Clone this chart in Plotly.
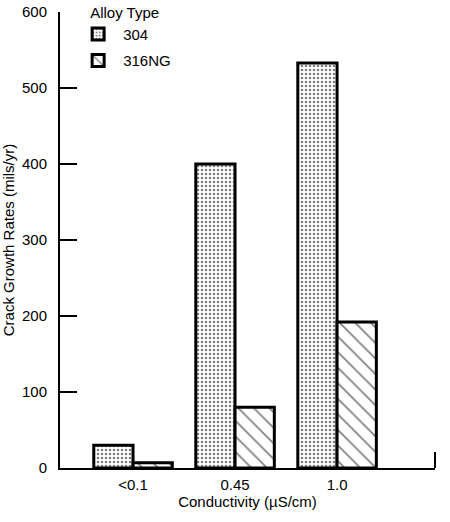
import plotly.graph_objects as go

categories = ["<0.1", "0.45", "1.0"]
alloy_304 = [30, 400, 533]
alloy_316ng = [7, 80, 192]
y_ticks = [0, 100, 200, 300, 400, 500, 600]

FONT = "Liberation Sans, Arial, Helvetica, sans-serif"

fig = go.Figure()
fig.add_trace(go.Bar(
    x=categories, y=alloy_304, name="304", legendgroup="a",
    marker=dict(color="white", line=dict(color="black", width=3),
                pattern=dict(shape=".", fgcolor="black", bgcolor="white",
                             size=4, solidity=0.35, fillmode="overlay")),
))
fig.add_trace(go.Bar(
    x=categories, y=alloy_316ng, name="316NG", legendgroup="b",
    marker=dict(color="white", line=dict(color="black", width=3),
                pattern=dict(shape="\\", fgcolor="black", bgcolor="white",
                             size=11, solidity=0.15, fillmode="overlay")),
))

fig.update_layout(
    width=450, height=522,
    margin=dict(l=60, r=15, t=12, b=54, autoexpand=False),
    paper_bgcolor="white", plot_bgcolor="white",
    barmode="group", bargap=0.23, bargroupgap=0,
    font=dict(family=FONT, size=15, color="black"),
    showlegend=True,
    legend=dict(
        title=dict(text="Alloy Type", font=dict(size=15), side="top center"),
        x=0.035, y=1.03, xanchor="left", yanchor="top",
        bgcolor="rgba(0,0,0,0)", font=dict(size=15),
        tracegroupgap=4, itemwidth=40,
    ),
    xaxis=dict(
        type="category", range=[-0.716, 2.96],
        showline=True, linecolor="black", linewidth=2,
        ticks="", showgrid=False, zeroline=False,
        ticklabelstandoff=2,
        title=dict(text="Conductivity (µS/cm)", standoff=4, font=dict(size=15)),
    ),
    yaxis=dict(
        range=[0, 600], tickvals=y_ticks,
        showline=True, linecolor="black", linewidth=2,
        ticks="inside", ticklen=17, tickwidth=1.5, tickcolor="black",
        showgrid=False, zeroline=False,
        ticklabelstandoff=8,
        title=dict(text="Crack Growth Rates (mils/yr)", standoff=4, font=dict(size=15)),
    ),
)

fig.add_shape(type="line", xref="paper", yref="paper",
              x0=1, x1=1, y0=0, y1=0.035,
              line=dict(color="black", width=2))

fig.write_html("out.html")
